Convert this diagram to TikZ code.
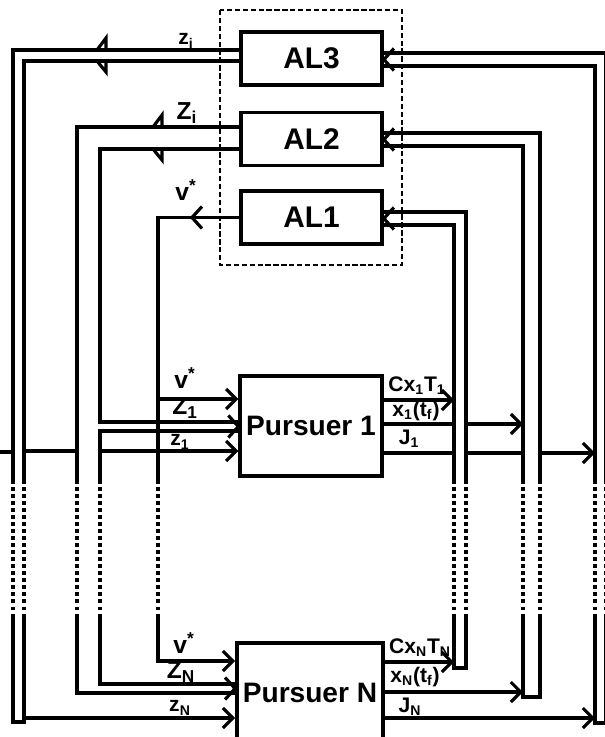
\documentclass[tikz,border=0pt]{standalone}
\usepackage{fontspec}
\setmainfont{Liberation Sans}
\usepackage{tikz}
\usetikzlibrary{arrows.meta,positioning,calc}

\tikzset{
  pics/vee/.style={code={\draw[line width=1.8pt] (-10,-11) -- (0,0) -- (-10,11);}},
  pics/flange/.style={code={
    \draw[line width=1.8pt] (0,0) -- (9,-12) -- (9,0);
    \draw[line width=1.8pt] (0,#1) -- (9,{#1+11}) -- (9,#1);}}
}

\begin{document}
\begin{tikzpicture}[
  x=0.02cm, y=-0.02cm,
  every node/.style={font=\bfseries},
  albox/.style={draw,line width=2.2pt,minimum width=2.82cm,minimum height=1.06cm,font=\fontsize{17}{17}\bfseries},
  pbox/.style={draw,line width=2.2pt,minimum width=2.82cm,minimum height=2cm,font=\fontsize{16}{16}\bfseries},
  wire/.style={line width=1.8pt},
  sig/.style={line width=1.8pt,-{Straight Barb[length=2mm,width=4mm]}},
  dotwire/.style={line width=1.8pt,dash pattern=on 2pt off 2pt},
  lbl/.style={font=\fontsize{12}{12}\bfseries,inner sep=0pt},
  bigl/.style={lbl,font=\fontsize{14}{14}\bfseries}
]
\useasboundingbox (0,0) rectangle (605,737);
\clip (0,0) rectangle (605,737);

% blocks
\node[albox] (al3) at (311.5,58.5) {AL3};
\node[albox] (al2) at (311.5,139) {AL2};
\node[albox] (al1) at (311.5,217.5) {AL1};
\node[pbox] (p1) at (311,426) {Pursuer 1};
\node[pbox] (pN) at (310,693) {Pursuer N};
\draw[line width=1.1pt,dash pattern=on 3pt off 1.5pt] (220,10) rectangle (402,265);

% columns and break rows
\coordinate (zo) at (13,0);  \coordinate (zi) at (24,0);
\coordinate (Zo) at (77,0);  \coordinate (Zi) at (100,0);
\coordinate (vs) at (158,0);
\coordinate (ci) at (454,0); \coordinate (co) at (466,0);
\coordinate (xi) at (523,0); \coordinate (xo) at (540,0);
\coordinate (ji) at (595,0); \coordinate (jo) at (606,0);
\coordinate (tb) at (0,480); \coordinate (bb) at (0,617);

% z from AL3
\draw[wire] (al3.west |- 0,50) -| (zo |- tb);
\draw[wire] (al3.west |- 0,61) -| (zi |- tb);
\pic at (97,50) {flange=11};
\draw[wire] (zo |- bb) |- (zi |- 0,722) -- (zi |- bb);
\draw[wire] (0,452) -- (zo |- 0,452);
\draw[wire] (zi |- 0,451) -- (Zo |- 0,451);
\draw[sig] (Zi |- 0,451) -- (p1.west |- 0,451);
\draw[sig] (zi |- 0,718) -- (pN.west |- 0,718);

% Z from AL2
\draw[wire] (al2.west |- 0,127) -| (Zo |- tb);
\draw[wire] (al2.west |- 0,149) -| (Zi |- 0,422) -- (p1.west |- 0,422);
\draw[wire] (p1.west |- 0,431) -| (Zi |- tb);
\pic at (153,127) {flange=22};
\draw[wire] (Zo |- bb) |- (pN.west |- 0,693);
\draw[wire] (Zi |- bb) |- (pN.west |- 0,684);
\pic at (p1.west |- 0,426.5) {vee};
\pic at (pN.west |- 0,688.5) {vee};

% v* from AL1
\draw[wire] (al1.west) -| (vs |- tb);
\pic[rotate=180] at (192,217.5) {vee};
\draw[sig] (vs |- 0,399) -- (p1.west |- 0,399);
\draw[sig] (vs |- bb) |- (pN.west |- 0,661);

% returns to AL1
\draw[wire] (al1.east |- 0,212) -| (co |- tb);
\draw[wire] (al1.east |- 0,225) -| (ci |- tb);
\pic[rotate=180] at (al1.east |- 0,218.5) {vee};
\draw[sig] (p1.east |- 0,400) -- (ci |- 0,400);
\draw[wire] (ci |- bb) |- (co |- 0,668) -- (co |- bb);
\draw[sig] (pN.east |- 0,662) -- (ci |- 0,662);

% returns to AL2
\draw[wire] (al2.east |- 0,133) -| (xo |- tb);
\draw[wire] (al2.east |- 0,146) -| (xi |- tb);
\pic[rotate=180] at (al2.east |- 0,139.5) {vee};
\draw[wire] (p1.east |- 0,424) -- (ci |- 0,424);
\draw[sig] (co |- 0,424) -- (xi |- 0,424);
\draw[wire] (xi |- bb) |- (xo |- 0,697) -- (xo |- bb);
\draw[sig] (pN.east |- 0,692) -- (xi |- 0,692);

% returns to AL3
\draw[wire] (al3.east |- 0,53) -| (jo |- tb);
\draw[wire] (al3.east |- 0,66) -| (ji |- tb);
\pic[rotate=180] at (al3.east |- 0,59.5) {vee};
\draw[wire] (p1.east |- 0,453) -- (ci |- 0,453);
\draw[wire] (co |- 0,453) -- (xi |- 0,453);
\draw[sig] (xo |- 0,453) -- (ji |- 0,453);
\draw[wire] (ji |- bb) |- (jo |- 0,723) -- (jo |- bb);
\draw[sig] (pN.east |- 0,718) -- (ji |- 0,718);

% dotted breaks
\foreach \c in {zo,zi,Zo,Zi,vs,ci,co,xi,xo,ji,jo}
  \draw[dotwire] (\c |- tb) -- (\c |- bb);

% labels
\node[lbl] (lz3) at (186,41) {z\textsubscript{i}};
\node[bigl] (lZ2) at (187,113) {Z\textsubscript{i}};
\node[bigl] (lv1) at (186,190) {v\textsuperscript{*}};
\node[bigl] (lv1a) at (185,378) {v\textsuperscript{*}};
\node[bigl] (lZ1) at (185,408) {Z\textsubscript{1}};
\node[lbl] (lz1) at (180,442) {z\textsubscript{1}};
\node[lbl] (lc1) at (417,386) {Cx\textsubscript{1}T\textsubscript{1}};
\node[lbl] (lx1) at (416,411) {x\textsubscript{1}(t\textsubscript{f})};
\node[lbl] (lj1) at (409,439) {J\textsubscript{1}};
\node[bigl] (lvN) at (184,643) {v\textsuperscript{*}};
\node[bigl] (lZN) at (181,672) {Z\textsubscript{N}};
\node[lbl] (lzN) at (180,708) {z\textsubscript{N}};
\node[lbl] (lcN) at (420,648) {Cx\textsubscript{N}T\textsubscript{N}};
\node[lbl] (lxN) at (415,677) {x\textsubscript{N}(t\textsubscript{f})};
\node[lbl] (ljN) at (410,707) {J\textsubscript{N}};
\end{tikzpicture}
\end{document}
